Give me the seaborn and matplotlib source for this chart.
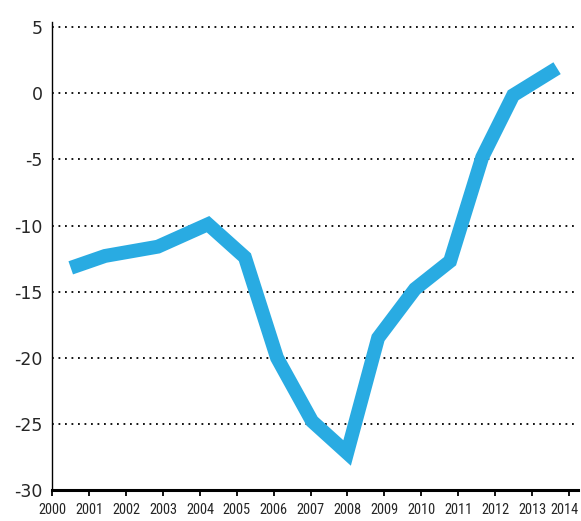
import matplotlib
matplotlib.use("Agg")
import matplotlib.pyplot as plt
from matplotlib import font_manager
import seaborn as sns
import pandas as pd

# values
years = [2000.50, 2001.43, 2002.86, 2004.22, 2005.22, 2006.09, 2007.04,
         2007.99, 2008.83, 2009.83, 2010.78, 2011.65, 2012.49, 2013.68]
values = [-13.2, -12.3, -11.6, -9.9, -12.4, -20.0, -24.8,
          -27.2, -18.5, -14.8, -12.7, -4.85, -0.15, 1.9]
year_ticks = list(range(2000, 2015))
y_ticks = [5, 0, -5, -10, -15, -20, -25, -30]

df = pd.DataFrame({"year": years, "value": values})

sns.set_theme(style="white")
plt.rcParams['font.family'] = ['DejaVu Sans']

# narrow face for the year labels, if one is installed
installed = {f.name for f in font_manager.fontManager.ttflist}
xfont = dict(family="DejaVu Sans")
for name in ["Liberation Sans Narrow", "Roboto Condensed", "Open Sans Condensed",
             "DejaVu Sans Condensed"]:
    if name in installed:
        xfont = dict(family=name)
        break
else:
    if any(f.name == "DejaVu Sans" and f.stretch == "condensed"
           for f in font_manager.fontManager.ttflist):
        xfont = dict(family="DejaVu Sans", stretch="condensed")

fig = plt.figure(figsize=(5.81, 5.21), dpi=100)
ax = fig.add_axes([0.090, 0.0595, 0.905, 0.8985])

# size the year labels so "2000" is about 28 px wide, as in the reference
renderer = fig.canvas.get_renderer()
probe = fig.text(0, 0, "2000", fontsize=10, **xfont)
w = probe.get_window_extent(renderer).width
probe.remove()
xfont["fontsize"] = 10 * 28 / w

# dotted horizontal guides
for v in y_ticks[:-1]:
    ax.axhline(v, color="black", lw=1.3, linestyle=(0, (1, 2.6)), zorder=1)

sns.lineplot(data=df, x="year", y="value", ax=ax, color="#29abe2",
             lw=10, solid_joinstyle="miter", solid_capstyle="butt", zorder=3)

ax.set_xlim(2000, 2014.25)
ax.set_ylim(-30, 5.4)
ax.set_xticks(year_ticks)
tick_text = [str(y) for y in year_ticks]
# last year sits at the picture edge: draw it nudged inward instead
ax.set_xticklabels(tick_text[:-1] + [""], **xfont)
ax.annotate(tick_text[-1], xy=(year_ticks[-1], 0), xycoords=ax.get_xaxis_transform(),
            xytext=(-3, -9.6), textcoords="offset points", ha="center", va="top",
            color=plt.rcParams["xtick.labelcolor"] if plt.rcParams["xtick.labelcolor"] != "inherit"
            else plt.rcParams["xtick.color"], **xfont)
ax.set_yticks(y_ticks)
ax.set_yticklabels([str(v) for v in y_ticks], fontsize=12.5)
ax.tick_params(axis="x", bottom=True, direction="out", length=4, width=1.3,
               color="black", pad=5)
ax.tick_params(axis="y", left=False, length=0, pad=7)
ax.set_xlabel("")
ax.set_ylabel("")

for s in ["top", "right"]:
    ax.spines[s].set_visible(False)
ax.spines["left"].set_color("black")
ax.spines["left"].set_linewidth(1.0)
ax.spines["bottom"].set_color("black")
ax.spines["bottom"].set_linewidth(2.2)

fig.savefig("out.png", dpi=100)
